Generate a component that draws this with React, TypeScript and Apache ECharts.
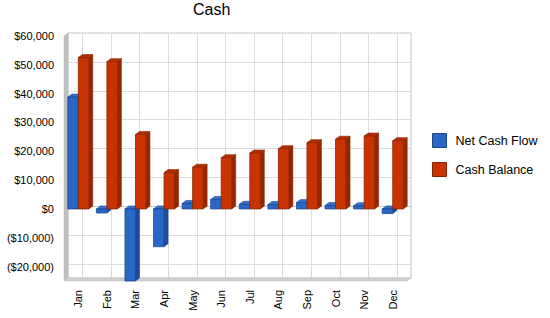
import React, { useEffect, useRef } from "react";
import * as echarts from "echarts";

const categories = ["Jan", "Feb", "Mar", "Apr", "May", "Jun", "Jul", "Aug", "Sep", "Oct", "Nov", "Dec"];
const netCashFlow = [38800, -1400, -25300, -13100, 1900, 3300, 1600, 1500, 2200, 1200, 1100, -1600];
const cashBalance = [52500, 51100, 25800, 12600, 14500, 17800, 19400, 20900, 23000, 24200, 25300, 23700];
const gridValues = [-20000, -10000, 0, 10000, 20000, 30000, 40000, 50000];
const seriesNames = ["Net Cash Flow", "Cash Balance"];

// depth offset of the pseudo-3D box
const DX = 4;
const DY = -3;

const FONT = "'Liberation Sans', Arial, sans-serif";

const palettes = [
  { front: "#2A66C6", top: "#3571D0", side: "#1D4C9E", stroke: "#1A4690" },
  { front: "#C83300", top: "#B52E00", side: "#952700", stroke: "#8A2400" },
];

function fmtMoney(v: number): string {
  const s = "$" + Math.abs(v).toLocaleString("en-US");
  return v < 0 ? "(" + s + ")" : s;
}

function makeBarRenderer(seriesIdx: number) {
  const pal = palettes[seriesIdx];
  return (params: any, api: any) => {
    const cs = params.coordSys;
    const i = api.value(0);
    const v = api.value(1);
    const base = api.coord([i, 0]);
    const end = api.coord([i, v]);
    const band = api.size([1, 0])[0];
    const w = band * 0.367;
    const x0 = seriesIdx === 0 ? base[0] - w : base[0];
    const clamp = (y: number) => Math.max(cs.y, Math.min(cs.y + cs.height, y));
    const top = clamp(Math.min(base[1], end[1]));
    const bottom = clamp(Math.max(base[1], end[1]));
    return {
      type: "group",
      children: [
        {
          type: "polygon",
          shape: {
            points: [
              [x0 + w, top],
              [x0 + w + DX, top + DY],
              [x0 + w + DX, bottom + DY],
              [x0 + w, bottom],
            ],
          },
          style: { fill: pal.side, stroke: pal.stroke, lineWidth: 0.6 },
        },
        {
          type: "polygon",
          shape: {
            points: [
              [x0, top],
              [x0 + DX, top + DY],
              [x0 + w + DX, top + DY],
              [x0 + w, top],
            ],
          },
          style: { fill: pal.top, stroke: pal.stroke, lineWidth: 0.6 },
        },
        {
          type: "rect",
          shape: { x: x0, y: top, width: w, height: bottom - top },
          style: { fill: pal.front, stroke: pal.stroke, lineWidth: 0.8 },
        },
      ],
    };
  };
}

function renderBox(params: any, api: any) {
  const cs = params.coordSys;
  const x = cs.x;
  const y = cs.y;
  const w = cs.width;
  const h = cs.height;
  const children: any[] = [];
  // back wall
  children.push({
    type: "rect",
    shape: { x: x + DX, y: y + DY, width: w, height: h },
    style: { fill: "#FFFFFF", stroke: "#C4C4C4", lineWidth: 1 },
  });
  // horizontal grid lines on the back wall
  gridValues.forEach((gv) => {
    const gy = Math.round(api.coord([0, gv])[1] + DY) + 0.5;
    children.push({
      type: "line",
      shape: { x1: x + DX, y1: gy, x2: x + w + DX, y2: gy },
      style: { stroke: gv === 0 ? "#C8C8C8" : "#DCDCDC", lineWidth: 1 },
    });
  });
  // vertical grid lines at category centres
  categories.forEach((_, k) => {
    const gx = Math.round(api.coord([k, 0])[0] + DX) + 0.5;
    children.push({
      type: "line",
      shape: { x1: gx, y1: y + DY, x2: gx, y2: y + h + DY },
      style: { stroke: "#DCDCDC", lineWidth: 1 },
    });
  });
  // left wall
  children.push({
    type: "polygon",
    shape: { points: [[x, y], [x + DX, y + DY], [x + DX, y + h + DY], [x, y + h]] },
    style: { fill: "#C0C0C0", stroke: "#B4B4B4", lineWidth: 0.5 },
  });
  // floor
  children.push({
    type: "polygon",
    shape: { points: [[x, y + h], [x + DX, y + h + DY], [x + w + DX, y + h + DY], [x + w, y + h]] },
    style: { fill: "#D0D0D0", stroke: "#BDBDBD", lineWidth: 0.5 },
  });
  // zero plane edge in front
  const zy = Math.round(api.coord([0, 0])[1]) + 0.5;
  children.push({
    type: "line",
    shape: { x1: x + DX, y1: zy + DY, x2: x + w + DX, y2: zy + DY },
    style: { stroke: "#C8C8C8", lineWidth: 1 },
  });
  return { type: "group", children };
}

export default function App() {
  const ref = useRef<HTMLDivElement>(null);

  useEffect(() => {
    if (!ref.current) return;
    const chart = echarts.init(ref.current, undefined, { renderer: "svg" });
    chart.setOption({
      animation: false,
      backgroundColor: "#FFFFFF",
      title: {
        text: "Cash",
        left: 193,
        top: 1,
        padding: 0,
        textStyle: { fontFamily: FONT, fontSize: 16, fontWeight: "normal", color: "#000" },
      },
      legend: {
        orient: "vertical",
        left: 432,
        top: 133,
        padding: 0,
        itemWidth: 14,
        itemHeight: 14,
        itemGap: 14,
        selectedMode: false,
        textStyle: { fontFamily: FONT, fontSize: 12.5, color: "#000", padding: [0, 0, 0, 4] },
        data: seriesNames.map((n, k) => ({
          name: n,
          icon: "rect",
          itemStyle: { color: palettes[k].front, borderColor: palettes[k].stroke, borderWidth: 1 },
        })),
      },
      grid: { left: 64, top: 36, width: 343, height: 245, containLabel: false },
      xAxis: {
        type: "category",
        data: categories,
        boundaryGap: true,
        axisLine: { show: false },
        axisTick: { show: true, alignWithLabel: true, length: 6, lineStyle: { color: "#A8A8A8" } },
        axisLabel: { rotate: 90, margin: 9, fontFamily: FONT, fontSize: 11, color: "#000" },
        splitLine: { show: false },
      },
      yAxis: {
        type: "value",
        min: -25000,
        max: 60000,
        interval: 5000,
        axisLine: { show: false },
        axisTick: { show: false },
        splitLine: { show: false },
        axisLabel: {
          margin: 10,
          fontFamily: FONT,
          fontSize: 11,
          color: "#000",
          formatter: (v: number) => (v % 10000 === 0 ? fmtMoney(v) : ""),
        },
      },
      series: [
        {
          name: "box",
          type: "custom",
          z: 1,
          silent: true,
          renderItem: renderBox,
          data: [[0, 0]],
        },
        {
          name: seriesNames[0],
          type: "custom",
          z: 2,
          itemStyle: { color: palettes[0].front },
          renderItem: makeBarRenderer(0),
          encode: { x: 0, y: 1 },
          data: netCashFlow.map((v, i) => [i, v]),
        },
        {
          name: seriesNames[1],
          type: "custom",
          z: 3,
          itemStyle: { color: palettes[1].front },
          renderItem: makeBarRenderer(1),
          encode: { x: 0, y: 1 },
          data: cashBalance.map((v, i) => [i, v]),
        },
      ],
    });
    return () => chart.dispose();
  }, []);

  return (
    <div
      ref={ref}
      style={{ position: "fixed", left: 0, top: 0, width: 550, height: 318 }}
    />
  );
}
